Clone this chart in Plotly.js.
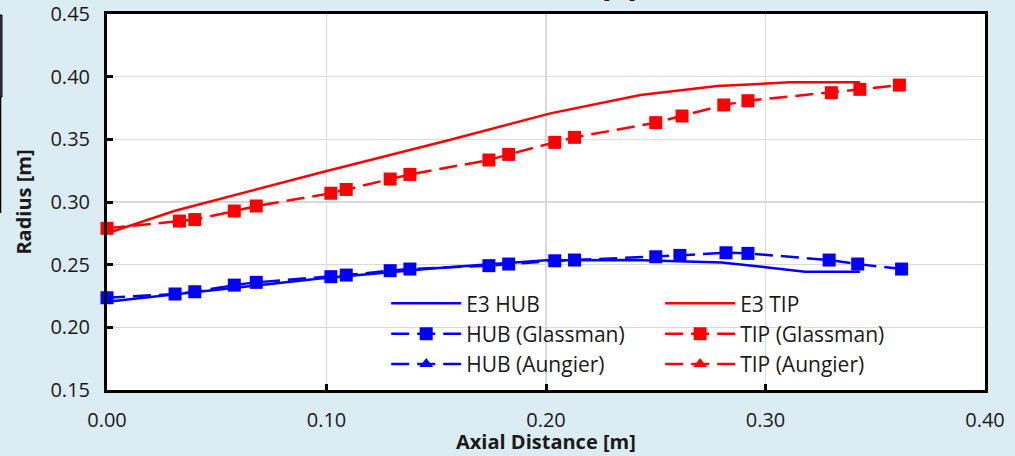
<!DOCTYPE html>
<html>
<head>
<meta charset="utf-8">
<script src="https://cdn.plot.ly/plotly-3.0.1.min.js"></script>
<style>html,body{margin:0;padding:0;background:#dbecf2;}#chart{width:1015px;height:456px;}</style>
</head>
<body>
<div id="chart"></div>
<script>
// ---- data ----
const e3HubX = [0.000, 0.030, 0.097, 0.148, 0.200, 0.240, 0.280, 0.300, 0.318, 0.343];
const e3HubY = [0.2204, 0.2262, 0.2390, 0.2470, 0.2535, 0.2537, 0.2517, 0.2480, 0.2443, 0.2443];

const e3TipX = [0.000, 0.031, 0.097, 0.156, 0.202, 0.243, 0.278, 0.311, 0.343];
const e3TipY = [0.2750, 0.2930, 0.3234, 0.3495, 0.3707, 0.3854, 0.3925, 0.3955, 0.3955];

const hubGlassX = [0.000, 0.031, 0.040, 0.058, 0.068, 0.102, 0.109, 0.129, 0.138, 0.174, 0.183,
                   0.204, 0.213, 0.250, 0.261, 0.282, 0.292, 0.329, 0.342, 0.362];
const hubGlassY = [0.2236, 0.2266, 0.2284, 0.2337, 0.2359, 0.2404, 0.2417, 0.2452, 0.2465, 0.2492, 0.2505,
                   0.2531, 0.2537, 0.2563, 0.2574, 0.2595, 0.2590, 0.2537, 0.2505, 0.2465];

const tipGlassX = [0.000, 0.033, 0.040, 0.058, 0.068, 0.102, 0.109, 0.129, 0.138, 0.174, 0.183,
                   0.204, 0.213, 0.250, 0.262, 0.281, 0.292, 0.330, 0.343, 0.361];
const tipGlassY = [0.2790, 0.2848, 0.2860, 0.2928, 0.2968, 0.3070, 0.3100, 0.3183, 0.3220, 0.3335, 0.3380,
                   0.3476, 0.3516, 0.3633, 0.3686, 0.3774, 0.3808, 0.3872, 0.3899, 0.3933];

// Aungier series appear only in the legend (no visible marks)
const hubAungX = [null];
const hubAungY = [null];
const tipAungX = [null];
const tipAungY = [null];

const xTicks = [0.00, 0.10, 0.20, 0.30, 0.40];
const yTicks = [0.15, 0.20, 0.25, 0.30, 0.35, 0.40, 0.45];
const xTitle = "Axial Distance [m]";
const yTitle = "Radius [m]";

// ---- styling ----
const BLUE = "#0000ff", RED = "#ff0000";
const DASH = "18px,8px";
const FONT = "Open Sans, Noto Sans, sans-serif";

const traces = [
  {x: e3HubX, y: e3HubY, name: "E3 HUB", mode: "lines", legend: "legend",
   line: {color: BLUE, width: 2.5}, legendgroup: "a"},
  {x: hubGlassX, y: hubGlassY, name: "HUB (Glassman)", mode: "lines+markers", legend: "legend",
   line: {color: BLUE, width: 2.5, dash: DASH}, marker: {symbol: "square", size: 13, color: BLUE},
   legendgroup: "b"},
  {x: hubAungX, y: hubAungY, name: "HUB (Aungier)", mode: "lines+markers", legend: "legend",
   line: {color: BLUE, width: 2.5, dash: DASH}, marker: {symbol: "triangle-up", size: 12, color: BLUE},
   legendgroup: "c"},
  {x: e3TipX, y: e3TipY, name: "E3 TIP", mode: "lines", legend: "legend2",
   line: {color: RED, width: 2.5}, legendgroup: "d"},
  {x: tipGlassX, y: tipGlassY, name: "TIP (Glassman)", mode: "lines+markers", legend: "legend2",
   line: {color: RED, width: 2.5, dash: DASH}, marker: {symbol: "square", size: 13, color: RED},
   legendgroup: "e"},
  {x: tipAungX, y: tipAungY, name: "TIP (Aungier)", mode: "lines+markers", legend: "legend2",
   line: {color: RED, width: 2.5, dash: DASH}, marker: {symbol: "triangle-up", size: 12, color: RED},
   legendgroup: "f"}
].map(t => Object.assign({type: "scatter", cliponaxis: false, showlegend: true}, t));

const legendCommon = {
  bgcolor: "rgba(0,0,0,0)", borderwidth: 0, orientation: "v",
  font: {family: FONT, size: 21, color: "#1a1a1a"},
  itemwidth: 70, tracegroupgap: 0, xanchor: "left", yanchor: "top", itemclick: false
};

const layout = {
  width: 1015, height: 456,
  paper_bgcolor: "#dbecf2", plot_bgcolor: "#ffffff",
  margin: {l: 107, r: 30, t: 14, b: 66},
  font: {family: FONT, size: 20, color: "#1a1a1a"},
  xaxis: {
    range: [0, 0.40], tickvals: xTicks, tickformat: ".2f",
    showgrid: true, gridcolor: "#d9d9d9", gridwidth: 1.5,
    showline: true, linecolor: "#000", linewidth: 3, mirror: true,
    ticks: "inside", ticklen: 6, tickwidth: 3, tickcolor: "#000",
    zeroline: false, tickfont: {size: 20}, ticklabelstandoff: 10
  },
  yaxis: {
    range: [0.15, 0.45], tickvals: yTicks, tickformat: ".2f",
    showgrid: true, gridcolor: "#d9d9d9", gridwidth: 1.5,
    showline: true, linecolor: "#000", linewidth: 3, mirror: true,
    ticks: "inside", ticklen: 6, tickwidth: 3, tickcolor: "#000",
    zeroline: false, tickfont: {size: 20}, ticklabelstandoff: 10,
    title: {text: yTitle, font: {size: 20, weight: "bold", family: FONT}, standoff: 14}
  },
  legend: Object.assign({x: 0.318, y: 0.284}, legendCommon),
  legend2: Object.assign({x: 0.63, y: 0.284}, legendCommon),
  annotations: [
    { // x-axis title (bottom)
      text: "<b>" + xTitle + "</b>", xref: "paper", yref: "paper", x: 0.5, y: -0.137,
      xanchor: "center", yanchor: "middle", showarrow: false, borderpad: 0,
      font: {family: FONT, size: 20, color: "#1a1a1a"}
    },
    { // cropped title at the very top of the picture
      text: "<b>" + xTitle + "</b>", xref: "paper", yref: "paper", x: 0.5, y: 1.022,
      xanchor: "center", yanchor: "bottom", showarrow: false,
      font: {family: FONT, size: 20, color: "#1a1a1a"}
    }
  ],
  shapes: [
    {type: "rect", xref: "paper", yref: "paper", x0: -0.1219, x1: -0.1196, y0: 0.7792, y1: 0.9973,
     fillcolor: "#5b4a8a", line: {color: "#000", width: 1}},
    {type: "line", xref: "paper", yref: "paper", x0: -0.1213, x1: -0.1213, y0: 0.4707, y1: 0.7792,
     line: {color: "#000", width: 1.5}}
  ],
  showlegend: true
};

Plotly.newPlot("chart", traces, layout, {staticPlot: true, displayModeBar: false});
</script>
</body>
</html>
